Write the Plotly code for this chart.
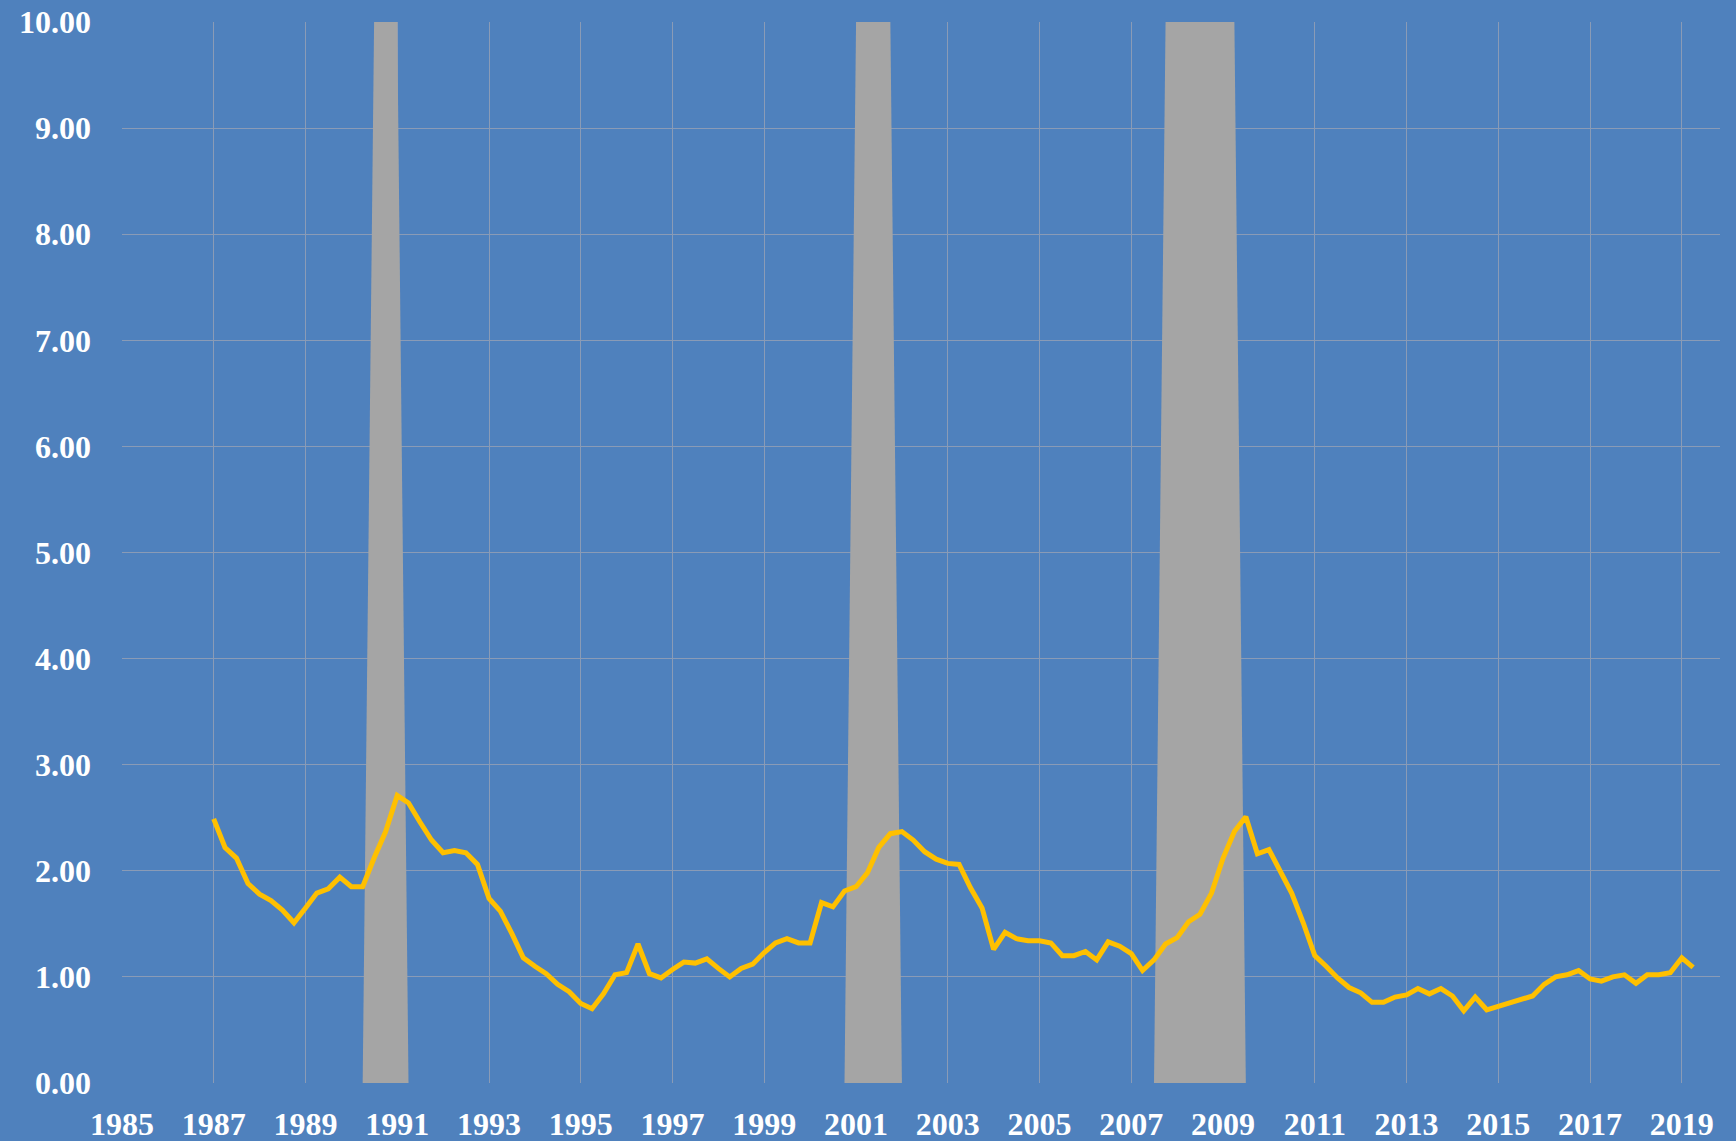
import pandas as pd
import plotly.graph_objects as go

# quarterly series, 1987Q1 .. 2019Q2
rate = [
    2.49, 2.22, 2.12, 1.88, 1.78, 1.72, 1.63, 1.51,   # 1987-1988
    1.65, 1.79, 1.83, 1.94, 1.85, 1.85, 2.12, 2.37,   # 1989-1990
    2.71, 2.64, 2.46, 2.29, 2.17, 2.19, 2.17, 2.06,   # 1991-1992
    1.74, 1.62, 1.41, 1.18, 1.10, 1.03, 0.93, 0.86,   # 1993-1994
    0.75, 0.70, 0.84, 1.02, 1.04, 1.31, 1.03, 0.99,   # 1995-1996
    1.07, 1.14, 1.13, 1.17, 1.08, 1.00, 1.08, 1.12,   # 1997-1998
    1.23, 1.32, 1.36, 1.32, 1.32, 1.70, 1.66, 1.81,   # 1999-2000
    1.85, 1.98, 2.22, 2.35, 2.37, 2.29, 2.18, 2.11,   # 2001-2002
    2.07, 2.06, 1.84, 1.65, 1.26, 1.42, 1.36, 1.34,   # 2003-2004
    1.34, 1.32, 1.20, 1.20, 1.24, 1.16, 1.33, 1.29,   # 2005-2006
    1.22, 1.06, 1.16, 1.31, 1.37, 1.52, 1.59, 1.79,   # 2007-2008
    2.12, 2.37, 2.51, 2.16, 2.20, 1.99, 1.79, 1.51,   # 2009-2010
    1.20, 1.10, 0.99, 0.90, 0.85, 0.76, 0.76, 0.81,   # 2011-2012
    0.83, 0.89, 0.84, 0.89, 0.82, 0.68, 0.81, 0.69,   # 2013-2014
    0.72, 0.76, 0.78, 0.82, 0.93, 1.00, 1.02, 1.06,   # 2015-2016
    0.98, 0.96, 1.00, 1.02, 0.94, 1.02, 1.02, 1.04,   # 2017-2018
    1.18, 1.09,                                       # 2019
]
quarters = pd.date_range("1987-01-01", periods=len(rate), freq="QS")

# recession shading (0 -> 10 -> 0 on quarterly points)
rec_1990_x = ["1990-04-01", "1990-07-01", "1990-10-01", "1991-01-01", "1991-04-01"]
rec_1990_y = [0, 10, 10, 10, 0]
rec_2001_x = ["2000-10-01", "2001-01-01", "2001-04-01", "2001-07-01", "2001-10-01", "2002-01-01"]
rec_2001_y = [0, 10, 10, 10, 10, 0]
rec_2008_x = ["2007-07-01", "2007-10-01", "2008-01-01", "2008-04-01", "2008-07-01",
              "2008-10-01", "2009-01-01", "2009-04-01", "2009-07-01"]
rec_2008_y = [0, 10, 10, 10, 10, 10, 10, 10, 0]

bg = "#4F81BD"
grid = "#8A9BB6"
font = dict(family="Liberation Serif, Times New Roman, serif", size=32, color="white",
            weight="bold")

fig = go.Figure()
for rx, ry in [(rec_1990_x, rec_1990_y), (rec_2001_x, rec_2001_y), (rec_2008_x, rec_2008_y)]:
    fig.add_trace(go.Scatter(x=rx, y=ry, mode="lines", fill="tozeroy",
                             fillcolor="#A5A5A5", line=dict(width=0, color="#A5A5A5"),
                             showlegend=False, hoverinfo="skip"))

fig.add_trace(go.Scatter(x=quarters, y=rate, mode="lines",
                         line=dict(color="#FFC000", width=5), showlegend=False))

fig.update_layout(
    width=1736, height=1141,
    paper_bgcolor=bg, plot_bgcolor=bg,
    margin=dict(l=122, r=16, t=22, b=58, autoexpand=False),
    font=font,
)
fig.update_xaxes(
    type="date", range=["1985-01-01", "2019-11-01"],
    tick0="1985-01-01", dtick="M24", tickformat="%Y",
    showgrid=True, gridcolor=grid, gridwidth=1,
    zeroline=False, showline=False, ticks="",
    ticklabelstandoff=19, automargin=False,
)
fig.update_yaxes(
    range=[0, 10], dtick=1, tickformat=".2f",
    showgrid=True, gridcolor=grid, gridwidth=1,
    zeroline=False, showline=False, ticks="",
    ticklabelstandoff=30, automargin=False,
)

fig.write_html("out.html", config={"displayModeBar": False},
               post_script="document.body.style.margin='0';"
                           "document.body.style.background='#4F81BD';")
